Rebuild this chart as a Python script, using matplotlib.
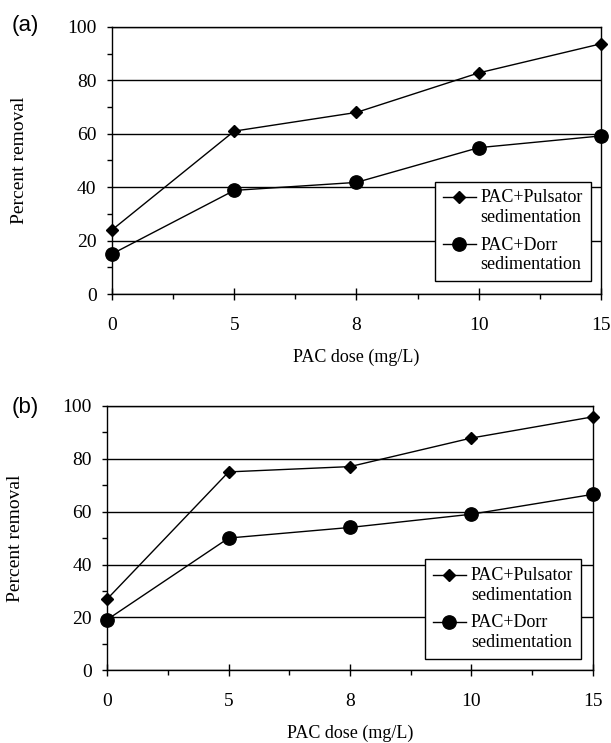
import matplotlib
matplotlib.use("Agg")
import numpy as np
import matplotlib.pyplot as plt
from matplotlib.ticker import MultipleLocator, FixedLocator
from matplotlib.legend_handler import HandlerLine2D

doses = ["0", "5", "8", "10", "15"]
a_pulsator = [24, 61, 68, 82.8, 93.7]
a_dorr = [15, 38.8, 41.8, 54.8, 59.2]
b_pulsator = [27, 75, 77, 87.8, 95.8]
b_dorr = [19.2, 50, 54, 59, 66.5]
yticks = [0, 20, 40, 60, 80, 100]
labels = ["PAC+Pulsator\nsedimentation", "PAC+Dorr\nsedimentation"]

serif = ["Liberation Serif", "DejaVu Serif"]
sans = ["Liberation Sans", "DejaVu Sans"]


class UpHandler(HandlerLine2D):
    """Place the legend handle level with the first line of a two-line label."""
    def __init__(self, dy, **kw):
        super().__init__(**kw)
        self.dy = dy

    def create_artists(self, legend, orig_handle, xdescent, ydescent, width,
                       height, fontsize, trans):
        arts = super().create_artists(legend, orig_handle, xdescent, ydescent,
                                      width, height, fontsize, trans)
        for a in arts:
            a.set_ydata(np.asarray(a.get_ydata()) + self.dy)
        return arts


fig = plt.figure(figsize=(6.11, 7.43), dpi=100)
axA = fig.add_axes([0.1833, 0.6043, 0.8003, 0.3594])
axB = fig.add_axes([0.1756, 0.0978, 0.7944, 0.3561])

panels = [
    (axA, a_pulsator, a_dorr, "(a)", (0.6605, 0.4206), (25.5, 25)),
    (axB, b_pulsator, b_dorr, "(b)", (0.655, 0.4195), (25, 408)),
]

for ax, pul, dorr, tag, lpos, tpos in panels:
    x = list(range(len(doses)))
    l1, = ax.plot(x, pul, color="black", lw=1.0, marker="D", ms=5.8,
                  label=labels[0], clip_on=False, zorder=5)
    l2, = ax.plot(x, dorr, color="black", lw=1.0, marker="o", ms=9.6,
                  label=labels[1], clip_on=False, zorder=5)
    ax.set_xlim(0, len(doses) - 1)
    ax.set_ylim(0, 100)
    ax.set_xticks(x)
    ax.set_xticklabels(doses)
    ax.xaxis.set_minor_locator(FixedLocator([i + 0.5 for i in range(len(doses) - 1)]))
    ax.set_yticks(yticks)
    ax.yaxis.set_minor_locator(MultipleLocator(10))
    ax.grid(axis="y", which="major", color="black", lw=1.0)
    ax.set_axisbelow(True)
    for s in ax.spines.values():
        s.set_color("black")
        s.set_linewidth(1.0)
    ax.tick_params(axis="x", which="major", direction="inout", length=8.6, width=1,
                   pad=12, labelsize=14)
    ax.tick_params(axis="x", which="minor", direction="out", length=3.6, width=1)
    ax.tick_params(axis="y", which="major", direction="out", length=3.6, width=1,
                   pad=7.5, labelsize=14)
    ax.tick_params(axis="y", which="minor", direction="out", length=3.4, width=1)
    for lab in ax.get_xticklabels() + ax.get_yticklabels():
        lab.set_family(serif)
    ax.set_xlabel("PAC dose (mg/L)", family=serif, fontsize=13, va="center")
    ax.xaxis.set_label_coords(0.5, -0.237)
    ax.set_ylabel("Percent removal", family=serif, fontsize=14, va="center")
    ax.yaxis.set_label_coords(-0.19, 0.5)
    h = UpHandler(7.8)
    leg = ax.legend(handles=[l1, l2], loc="upper left", bbox_to_anchor=lpos,
                    frameon=True, fancybox=False, edgecolor="black", framealpha=1,
                    prop={"family": serif, "size": 13}, handlelength=1.83,
                    handletextpad=0.28, borderpad=0.42, labelspacing=0.6,
                    borderaxespad=0, handler_map={l1: h, l2: h})
    leg.get_frame().set_linewidth(1.0)
    leg.set_zorder(10)
    fig.text(tpos[0] / 611, 1 - tpos[1] / 743, tag, family=sans, fontsize=16,
             ha="center", va="center")

fig.savefig("out.png", dpi=100)
